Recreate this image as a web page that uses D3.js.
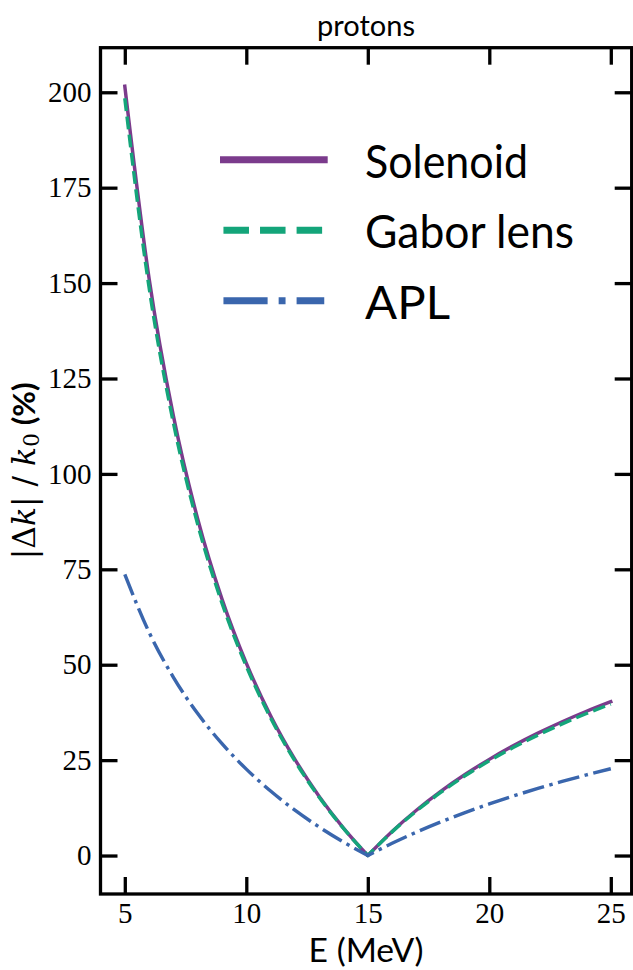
<!DOCTYPE html>
<html>
<head>
<meta charset="utf-8">
<script src="https://cdn.jsdelivr.net/npm/d3@7"></script>
<style>
  html, body { margin: 0; padding: 0; background: #fff; }
  svg { display: block; }
</style>
</head>
<body>
<svg id="chart" width="633" height="970"></svg>
<script>
// Beam energy (MeV)
const energy = [5, 6, 7, 8, 9, 10, 11, 12, 13, 14, 15, 16, 17, 18, 19, 20, 21, 22, 23, 24, 25];
// Relative change of focusing strength |Δk| / k0 (%) with respect to 15 MeV
const solenoid = [201.6, 151.2, 115.2, 88.2, 67.2, 50.4, 36.65, 25.2, 15.5, 7.2, 0,
                  6.3, 11.86, 16.8, 21.22, 25.2, 28.8, 32.07, 35.06, 37.8, 40.32];
const gaborLens = [198.43, 148.82, 113.39, 86.82, 66.14, 49.61, 36.08, 24.8, 15.26, 7.09, 0,
                   6.2, 11.67, 16.54, 20.89, 24.81, 28.35, 31.57, 34.51, 37.21, 39.69];
const apl = [73.67, 58.49, 46.7, 37.19, 29.31, 22.64, 16.9, 11.89, 7.47, 3.54, 0,
             3.2, 6.12, 8.78, 11.24, 13.51, 15.62, 17.58, 19.41, 21.13, 22.74];
const seriesNames = ["Solenoid", "Gabor lens", "APL"];
const xTicks = [5, 10, 15, 20, 25];
const yTicks = [0, 25, 50, 75, 100, 125, 150, 175, 200];

const svg = d3.select("#chart");

// plot frame
const frameL = 100.5, frameR = 631.7, frameT = 47.7, frameB = 894;
const lw = 3.45;

const x = d3.scaleLinear().domain([4, 26]).range([frameL, frameL + 22 * 24.3]);
const y = d3.scaleLinear().domain([-10.08, 211.68]).range([frameB, frameT]);

const serif = "'Liberation Serif', 'Times New Roman', serif";
const mathSerif = "'DejaVu Serif', serif";
const sans = "Lato, 'Open Sans', sans-serif";

// scale a text's font size so that its rendered width becomes `target`
function fitWidth(sel, base, target) {
  sel.style("font-size", base + "px");
  const w = sel.node().getComputedTextLength();
  sel.style("font-size", (base * target / w) + "px");
  return sel;
}

const series = [
  { name: seriesNames[0], values: solenoid, color: "#7b3b8c", dash: null },
  { name: seriesNames[1], values: gaborLens, color: "#14a57a", dash: [3.7, 1.6] },
  { name: seriesNames[2], values: apl, color: "#3a66ad", dash: [6.4, 1.6, 1, 1.6] }
];

// curve is drawn in two smooth pieces that meet at the cusp, joined into one path
function curvePath(vals) {
  const pts = energy.map((e, i) => [e, vals[i]]);
  const iMin = vals.indexOf(d3.min(vals));
  const line = d3.line().x(d => x(d[0])).y(d => y(d[1])).curve(d3.curveMonotoneX);
  const a = line(pts.slice(0, iMin + 1));
  const b = line(pts.slice(iMin));
  return a + "L" + b.slice(1);
}

const plot = svg.append("g");
series.forEach(s => {
  plot.append("path")
    .attr("d", curvePath(s.values))
    .attr("fill", "none")
    .attr("stroke", s.color)
    .attr("stroke-width", lw)
    .attr("stroke-linejoin", "round")
    .attr("stroke-linecap", s.dash ? "butt" : "square")
    .attr("stroke-dasharray", s.dash ? s.dash.map(v => v * lw).join(" ") : null);
});

// axes with inward ticks on all four sides
const tickLen = 17;
const tickW = 3.3;
function styleAxis(g) {
  g.select(".domain").remove();
  g.selectAll(".tick line").attr("stroke", "#000").attr("stroke-width", tickW);
  g.selectAll(".tick text").attr("fill", "#000").style("font-family", serif).style("font-size", "29px");
}

svg.append("g").attr("transform", `translate(${frameL},0)`)
  .call(d3.axisLeft(y).tickValues(yTicks).tickSizeInner(-tickLen).tickSizeOuter(0).tickPadding(9))
  .call(styleAxis);
svg.append("g").attr("transform", `translate(${frameR},0)`)
  .call(d3.axisRight(y).tickValues(yTicks).tickSizeInner(-tickLen).tickSizeOuter(0).tickFormat(""))
  .call(styleAxis);
svg.append("g").attr("transform", `translate(0,${frameB})`)
  .call(d3.axisBottom(x).tickValues(xTicks).tickSizeInner(-tickLen).tickSizeOuter(0).tickPadding(8))
  .call(styleAxis);
svg.append("g").attr("transform", `translate(0,${frameT})`)
  .call(d3.axisTop(x).tickValues(xTicks).tickSizeInner(-tickLen).tickSizeOuter(0).tickFormat(""))
  .call(styleAxis);

svg.append("rect")
  .attr("x", frameL).attr("y", frameT)
  .attr("width", frameR - frameL).attr("height", frameB - frameT)
  .attr("fill", "none").attr("stroke", "#000").attr("stroke-width", tickW);

// title and axis labels
const title = svg.append("text")
  .attr("x", (frameL + frameR) / 2).attr("y", 36)
  .attr("text-anchor", "middle")
  .style("font-family", sans)
  .text("protons");
fitWidth(title, 26, 98);

const xl = svg.append("text")
  .attr("x", (frameL + frameR) / 2).attr("y", 962)
  .attr("text-anchor", "middle")
  .style("font-family", sans)
  .text("E (MeV)");
fitWidth(xl, 31, 115);

const yl = svg.append("text")
  .attr("transform", `translate(35,${(frameT + frameB) / 2}) rotate(-90)`)
  .attr("text-anchor", "middle")
  .style("font-family", mathSerif)
  .style("font-weight", 300);
yl.append("tspan").text("|Δ");
yl.append("tspan").style("font-style", "italic").text("k");
yl.append("tspan").text("| / ");
yl.append("tspan").style("font-style", "italic").text("k");
yl.append("tspan").attr("dy", "0.17em").style("font-size", "0.7em").text("0");
yl.append("tspan").attr("dy", "-0.12em").style("font-family", sans).style("font-weight", "bold").text(" (%)");
fitWidth(yl, 28, 177);

// legend
const legX0 = 223.45, legX1 = 324.25, legLw = 6.9;
const legRows = [159.7, 230.2, 300.7];
const legWidths = [163, 209, 85];
series.forEach((s, i) => {
  svg.append("line")
    .attr("x1", legX0).attr("x2", legX1)
    .attr("y1", legRows[i]).attr("y2", legRows[i])
    .attr("stroke", s.color)
    .attr("stroke-width", legLw)
    .attr("stroke-linecap", s.dash ? "butt" : "square")
    .attr("stroke-dasharray", s.dash ? s.dash.map(v => v * legLw).join(" ") : null);
  svg.append("text")
    .attr("x", 365).attr("y", legRows[i] + 17.8)
    .attr("textLength", legWidths[i])
    .attr("lengthAdjust", "spacingAndGlyphs")
    .style("font-family", sans).style("font-size", "46px")
    .text(s.name);
});
</script>
</body>
</html>
